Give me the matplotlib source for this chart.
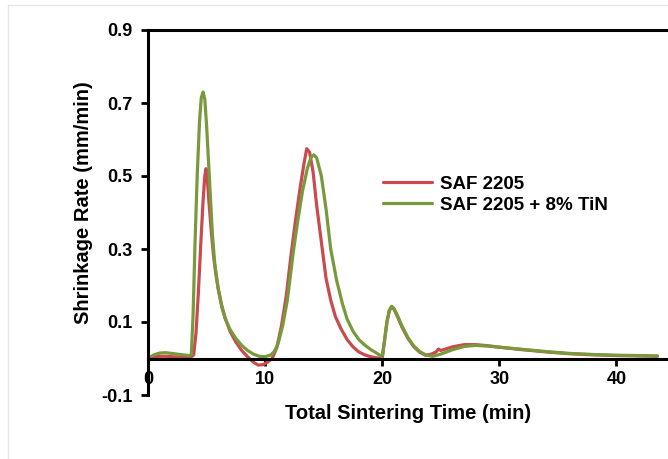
import numpy as np
import matplotlib
matplotlib.use("Agg")
import matplotlib.pyplot as plt
from matplotlib.lines import Line2D

plt.rcParams['font.family'] = ['Liberation Sans', 'DejaVu Sans']
plt.rcParams['font.weight'] = 'bold'

# SAF 2205
t_saf = [0, 0.5, 1.0, 1.5, 2, 3, 3.6, 3.9, 4.1, 4.3, 4.5, 4.7, 4.85, 4.95, 5.05,
         5.2, 5.4, 5.6, 5.8, 6.0, 6.3, 6.6, 7.0, 7.5, 8.0, 8.5, 9.0, 9.4, 9.8,
         10.2, 10.6, 11.0, 11.4, 11.8, 12.2, 12.6, 13.0, 13.3, 13.55, 13.8, 14.1,
         14.4, 14.8, 15.2, 15.6, 16.0, 16.5, 17.0, 17.5, 18.0, 18.5, 19.0, 19.5,
         20.0, 20.2, 20.4, 20.6, 20.8, 21.0, 21.3, 21.7, 22.2, 22.7, 23.2, 23.7,
         24.2, 24.6, 24.8, 25.0, 25.5, 26, 27, 28, 29, 30, 32, 34, 36, 38, 40,
         42, 43.5]
r_saf = [0.0, 0.004, 0.006, 0.006, 0.005, 0.003, 0.002, 0.01, 0.07, 0.18, 0.31,
         0.43, 0.5, 0.52, 0.5, 0.43, 0.35, 0.28, 0.23, 0.19, 0.145, 0.11, 0.075,
         0.045, 0.022, 0.005, -0.01, -0.018, -0.017, -0.01, 0.0, 0.03, 0.09, 0.17,
         0.28, 0.38, 0.47, 0.53, 0.575, 0.565, 0.51, 0.42, 0.32, 0.22, 0.16,
         0.115, 0.08, 0.052, 0.032, 0.018, 0.01, 0.005, 0.002, 0.0, 0.05, 0.1,
         0.13, 0.142, 0.135, 0.115, 0.085, 0.055, 0.032, 0.017, 0.009, 0.012,
         0.018, 0.026, 0.022, 0.027, 0.032, 0.038, 0.038, 0.035, 0.031, 0.024,
         0.018, 0.013, 0.01, 0.008, 0.007, 0.006]

# SAF 2205 + 8% TiN
t_tin = [0, 0.5, 1.0, 1.5, 2.0, 2.5, 3.0, 3.5, 3.7, 3.85, 4.0, 4.2, 4.4, 4.55,
         4.7, 4.85, 5.0, 5.15, 5.3, 5.5, 5.7, 6.0, 6.3, 6.6, 7.0, 7.5, 8.0, 8.5,
         9.0, 9.5, 10.0, 10.5, 10.8, 11.1, 11.5, 11.9, 12.4, 12.8, 13.2, 13.6,
         13.9, 14.15, 14.4, 14.8, 15.2, 15.6, 16.1, 16.6, 17.0, 17.5, 18.0, 18.5,
         19.0, 19.5, 20.0, 20.2, 20.4, 20.6, 20.8, 21.0, 21.3, 21.7, 22.2, 22.7,
         23.2, 23.7, 24.3, 25, 26, 27, 28, 29, 30, 32, 34, 36, 38, 40, 42, 43.5]
r_tin = [0.0, 0.01, 0.015, 0.016, 0.014, 0.012, 0.01, 0.008, 0.01, 0.12, 0.3,
         0.5, 0.65, 0.715, 0.73, 0.71, 0.64, 0.55, 0.46, 0.34, 0.26, 0.19, 0.14,
         0.108, 0.08, 0.055, 0.036, 0.022, 0.012, 0.006, 0.005, 0.01, 0.02, 0.04,
         0.09, 0.16, 0.29, 0.38, 0.46, 0.52, 0.55, 0.558, 0.55, 0.5, 0.41, 0.3,
         0.215, 0.15, 0.108, 0.075, 0.052, 0.037, 0.025, 0.015, 0.005, 0.05, 0.1,
         0.132, 0.143, 0.137, 0.118, 0.088, 0.057, 0.034, 0.019, 0.01, 0.006,
         0.012, 0.024, 0.033, 0.036, 0.034, 0.031, 0.025, 0.019, 0.014, 0.011,
         0.009, 0.008, 0.007]

x_ticks = [0, 10, 20, 30, 40]
y_ticks = [-0.1, 0.1, 0.3, 0.5, 0.7, 0.9]

red = '#c94b50'
green = '#789a3c'

fig = plt.figure(figsize=(6.68, 4.59), dpi=100)
ax = fig.add_axes([148 / 668, 64 / 459, 1 - 148 / 668, 365 / 459])

# faint frame around the chart area
fig.add_artist(Line2D([8 / 668, 8 / 668], [0, 1 - 5 / 459], color='#e6e6e6', lw=1))
fig.add_artist(Line2D([8 / 668, 1], [1 - 5 / 459, 1 - 5 / 459], color='#e6e6e6', lw=1))

ax.plot(t_saf, r_saf, color=red, lw=2.3, label='SAF 2205', solid_capstyle='round')
ax.plot(t_tin, r_tin, color=green, lw=2.3, label='SAF 2205 + 8% TiN', solid_capstyle='round')

ax.set_xlim(0, 44.4)
ax.set_ylim(-0.1, 0.9)
ax.set_xticks(x_ticks)
ax.set_yticks(y_ticks)
ax.set_yticklabels(['-0.1', '0.1', '0.3', '0.5', '0.7', '0.9'])

ax.spines['bottom'].set_position(('data', 0))
ax.spines['right'].set_visible(False)
for s in ['left', 'bottom', 'top']:
    ax.spines[s].set_linewidth(2.2)
    ax.spines[s].set_color('black')

ax.tick_params(axis='both', direction='out', length=5, width=2, labelsize=13)
ax.tick_params(axis='y', pad=6)
ax.tick_params(axis='x', pad=4)

ax.set_xlabel('Total Sintering Time (min)', fontsize=14.5, fontweight='bold')
ax.xaxis.set_label_coords(0.5, -0.025)
ax.set_ylabel('Shrinkage Rate (mm/min)', fontsize=14.5, fontweight='bold')
ax.yaxis.set_label_coords(-0.105, 0.527)

ax.legend(loc='upper left', bbox_to_anchor=(0.42, 0.647), frameon=False,
          fontsize=13.5, handlelength=2.6, handletextpad=0.4, labelspacing=0.2)

fig.savefig('out.png', dpi=100)
